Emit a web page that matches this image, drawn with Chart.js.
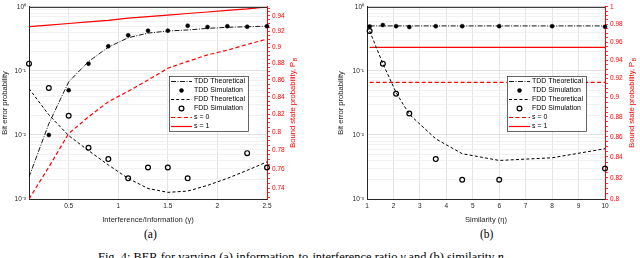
<!DOCTYPE html>
<html>
<head>
<meta charset="utf-8">
<script src="https://cdn.jsdelivr.net/npm/chart.js@4"></script>
<style>
  body { margin: 0; width: 640px; height: 258px; overflow: hidden; position: relative; background: #fff; }
  canvas { position: absolute; top: 0; }
  #ca { left: 0; }
  #cb { left: 320px; }
  .sub { position: absolute; top: 229px; font: 11.5px/11.5px "Liberation Serif", serif; color: #000; }
  #cap { position: absolute; left: 98px; top: 251px; font: 12.4px/12.4px "Liberation Serif", serif; white-space: nowrap; color: #000; }
</style>
</head>
<body>
<canvas id="ca" width="320" height="224"></canvas>
<canvas id="cb" width="320" height="224"></canvas>
<div class="sub" style="left:144px">(a)</div>
<div class="sub" style="left:480px">(b)</div>
<div id="cap">Fig. 4: BER for varying (a) information-to-interference ratio <i>γ</i> and (b) similarity <i>η</i>.</div>
<script>
// ── Data (a): varying interference/information γ ─────────────
const gammaA     = [0.1, 0.3, 0.5, 0.7, 0.9, 1.1, 1.3, 1.5, 1.7, 1.9, 2.1, 2.3, 2.5];
const tddTheoryA = [0.0022, 0.015, 0.0675, 0.14, 0.235, 0.33, 0.39, 0.42, 0.436, 0.462, 0.48, 0.49, 0.50];
const tddSimA    = [null, 0.010, 0.050, 0.13, 0.243, 0.36, 0.426, 0.426, 0.509, 0.485, 0.50, 0.49, 0.50];
const fddTheoryA = [0.053, 0.0206, 0.0098, 0.0057, 0.0034, 0.0021, 0.00146, 0.00127, 0.00133, 0.00163, 0.0021, 0.0028, 0.0038];
const fddSimA    = [0.13, 0.054, 0.020, 0.0063, 0.0042, 0.0021, 0.0031, 0.0031, 0.0021, null, null, 0.0052, 0.0031];
const s0A        = [0.7288, 0.7619, 0.7982, 0.8169, 0.8342, 0.8465, 0.8597, 0.8740, 0.8823, 0.8903, 0.8962, 0.9033, 0.9101];
const s1A        = [0.926, 0.928, 0.930, 0.932, 0.934, 0.937, 0.939, 0.941, 0.943, 0.945, 0.947, 0.949, 0.9517];

// ── Data (b): varying similarity η ───────────────────────────
const etaB       = [1.1, 1.6, 2.1, 2.6, 3.6, 4.6, 6, 8, 10];
const tddTheoryB = [0.505, 0.505, 0.505, 0.505, 0.505, 0.505, 0.505, 0.505, 0.505];
const tddSimB    = [0.496, 0.52, 0.50, 0.485, 0.50, 0.50, 0.50, 0.50, 0.49];
const fddTheoryB = [0.42, 0.13, 0.046, 0.021, 0.0087, 0.0051, 0.0040, 0.0044, 0.0061];
const fddSimB    = [0.42, 0.13, 0.044, 0.0216, 0.0042, 0.002, 0.002, null, 0.003];
const s0B        = [0.916, 0.916, 0.916, 0.916, 0.916, 0.916, 0.916, 0.916, 0.916];
const s1B        = [0.954, 0.954, 0.954, 0.954, 0.954, 0.954, 0.954, 0.954, 0.954];

// ── Ticks ────────────────────────────────────────────────────
const xTicksA = [0.5, 1, 1.5, 2, 2.5];
const xTicksB = [1, 2, 3, 4, 5, 6, 7, 8, 9, 10];
const berDecades = [0.001, 0.01, 0.1, 1];
const berLabels  = ['10⁻³', '10⁻²', '10⁻¹', '10⁰'];
const pbTicksA = [0.74, 0.76, 0.78, 0.8, 0.82, 0.84, 0.86, 0.88, 0.9, 0.92, 0.94];
const pbTicksB = [0.8, 0.82, 0.84, 0.86, 0.88, 0.9, 0.92, 0.94, 0.96, 0.98, 1];

// minor grid positions 2..9 per decade
const berTicks = [];
berDecades.forEach(d => {
  if (d === 1) { berTicks.push(1); return; }
  for (let k = 1; k <= 9; k++) berTicks.push(+(d * k).toPrecision(3));
});
function pbMinor(lo, hi) {
  const t = [];
  for (let v = lo; v <= hi + 1e-9; v += 0.005) t.push(Math.round(v * 1000) / 1000);
  return t;
}

const FONT = '"Liberation Sans", Arial, sans-serif';
const AX = '#262626';
const RED = '#ff0000';

const near = (arr, v) => arr.findIndex(a => Math.abs(a - v) < 1e-9);

// ── Plugins ──────────────────────────────────────────────────
const boxLegend = {
  id: 'boxLegend',
  afterDraw(chart) {
    const ctx = chart.ctx, a = chart.chartArea;
    const w = 79, h = 55;
    const x0 = Math.round(a.right - 19 - w), y0 = Math.round(a.top + 69);
    ctx.save();
    ctx.fillStyle = '#fff';
    ctx.fillRect(x0, y0, w, h);
    ctx.strokeStyle = AX;
    ctx.lineWidth = 0.7;
    ctx.strokeRect(x0 + 0.5, y0 + 0.5, w, h);
    chart.data.datasets.forEach((d, i) => {
      const y = y0 + 5.5 + i * 9;
      if (d.showLine !== false) {
        ctx.beginPath();
        ctx.setLineDash(d.borderDash || []);
        ctx.strokeStyle = d.borderColor;
        ctx.lineWidth = d.borderWidth;
        ctx.moveTo(x0 + 2, y);
        ctx.lineTo(x0 + 23, y);
        ctx.stroke();
        ctx.setLineDash([]);
      }
      if (d.pointRadius > 0) {
        ctx.beginPath();
        ctx.arc(x0 + 12.5, y, d.pointRadius, 0, Math.PI * 2);
        ctx.fillStyle = d.pointBackgroundColor;
        ctx.fill();
        ctx.lineWidth = d.pointBorderWidth;
        ctx.strokeStyle = d.pointBorderColor;
        ctx.stroke();
      }
      ctx.fillStyle = '#000';
      ctx.font = '7px ' + FONT;
      ctx.textBaseline = 'middle';
      ctx.textAlign = 'left';
      ctx.fillText(d.label, x0 + 25, y);
    });
    ctx.restore();
  }
};

const frame = {
  id: 'frame',
  afterDraw(chart, args, opts) {
    const ctx = chart.ctx, a = chart.chartArea;
    ctx.save();
    ctx.strokeStyle = AX;
    ctx.lineWidth = 1;
    ctx.beginPath();
    ctx.moveTo(a.left, a.top + 0.5);
    ctx.lineTo(a.right, a.top + 0.5);
    ctx.stroke();
    // right axis title, reads bottom to top, with subscript B
    ctx.translate(opts.tx, (a.top + a.bottom) / 2);
    ctx.rotate(-Math.PI / 2);
    ctx.fillStyle = RED;
    ctx.textBaseline = 'middle';
    ctx.textAlign = 'left';
    const main = 'Bound state probability, P';
    ctx.font = '7.6px ' + FONT;
    const wm = ctx.measureText(main).width;
    ctx.font = '5.6px ' + FONT;
    const ws = ctx.measureText('B').width;
    const sx = -(wm + ws) / 2;
    ctx.font = '7.6px ' + FONT;
    ctx.fillText(main, sx, 0);
    ctx.font = '5.6px ' + FONT;
    ctx.fillText('B', sx + wm + 0.3, 2.6);
    ctx.restore();
  }
};

// ── Datasets ─────────────────────────────────────────────────
function pts(xs, ys) { return xs.map((x, i) => ({ x: x, y: ys[i] })); }

function makeSets(xs, tddT, tddS, fddT, fddS, s0, s1) {
  return [
    { label: 'TDD Theoretical', data: pts(xs, tddT), yAxisID: 'y', borderColor: '#000', borderWidth: 0.9,
      borderDash: [5, 1.5, 1, 1.5], pointRadius: 0 },
    { label: 'TDD Simulation', data: pts(xs, tddS), yAxisID: 'y', showLine: false, clip: false,
      pointRadius: 2, pointBackgroundColor: '#000', pointBorderColor: '#000', pointBorderWidth: 0.5 },
    { label: 'FDD Theoretical', data: pts(xs, fddT), yAxisID: 'y', borderColor: '#000', borderWidth: 1,
      borderDash: [3, 2.2], pointRadius: 0 },
    { label: 'FDD Simulation', data: pts(xs, fddS), yAxisID: 'y', showLine: false, clip: false,
      pointRadius: 2.4, pointBackgroundColor: 'rgba(0,0,0,0)', pointBorderColor: '#000', pointBorderWidth: 1.2 },
    { label: 's = 0', data: pts(xs, s0), yAxisID: 'y2', borderColor: RED, borderWidth: 1.2,
      borderDash: [4, 2.5], pointRadius: 0 },
    { label: 's = 1', data: pts(xs, s1), yAxisID: 'y2', borderColor: RED, borderWidth: 1.2,
      pointRadius: 0 }
  ];
}

// ── Chart builder ────────────────────────────────────────────
function makeChart(id, cfg) {
  const tickFont = { family: FONT, size: 6.5 };
  const titleFont = { family: FONT, size: 7.6 };
  const pbMinorTicks = pbMinor(cfg.pbTicks[0] - 0.015, cfg.pbTicks[cfg.pbTicks.length - 1] + 0.015)
    .filter(v => v >= cfg.pbMin - 1e-9 && v <= cfg.pbMax + 1e-9);

  return new Chart(document.getElementById(id), {
    type: 'line',
    data: { datasets: cfg.sets },
    options: {
      responsive: false,
      animation: false,
      layout: { padding: { top: 5, left: 0, right: 0, bottom: 0 } },
      plugins: { legend: { display: false }, tooltip: { enabled: false }, frame: { tx: cfg.rightTitleX } },
      scales: {
        x: {
          type: 'linear', min: cfg.xMin, max: cfg.xMax,
          afterBuildTicks: s => { s.ticks = cfg.xTicks.map(v => ({ value: v })); },
          afterFit: s => { s.height = 25; },
          grid: { color: '#dedede', lineWidth: 0.8, drawTicks: false },
          border: { color: AX, width: 1 },
          ticks: { font: tickFont, color: AX, padding: 3, autoSkip: false, maxRotation: 0,
                   callback: v => String(v) },
          title: { display: true, text: cfg.xTitle, font: titleFont, color: AX, padding: { top: 2, bottom: 0 } }
        },
        y: {
          type: 'logarithmic', position: 'left', min: 0.001, max: 1,
          afterBuildTicks: s => { s.ticks = berTicks.map(v => ({ value: v })); },
          afterFit: s => { s.width = cfg.leftW; },
          grid: {
            drawTicks: false, lineWidth: 0.8,
            color: c => (c.tick && near(berDecades, c.tick.value) >= 0) ? '#dcdcdc' : '#efefef'
          },
          border: { color: AX, width: 1 },
          ticks: { font: tickFont, color: AX, padding: 3, autoSkip: false,
                   callback: v => { const i = near(berDecades, v); return i >= 0 ? berLabels[i] : ''; } },
          title: { display: true, text: 'Bit error probability', font: titleFont, color: AX,
                   padding: { top: cfg.leftTitlePad, bottom: 0 } }
        },
        y2: {
          type: 'logarithmic', position: 'right', min: cfg.pbMin, max: cfg.pbMax,
          afterBuildTicks: s => { s.ticks = pbMinorTicks.map(v => ({ value: v })); },
          afterFit: s => { s.width = cfg.rightW; },
          grid: { drawOnChartArea: false, color: RED, tickLength: 3, lineWidth: 0.8 },
          border: { color: RED, width: 1 },
          ticks: { font: tickFont, color: RED, padding: 2, autoSkip: false,
                   callback: v => { const i = near(cfg.pbTicks, v); return i >= 0 ? String(cfg.pbTicks[i]) : ''; } }
        }
      }
    },
    plugins: [frame, boxLegend]
  });
}

makeChart('ca', {
  sets: makeSets(gammaA, tddTheoryA, tddSimA, fddTheoryA, fddSimA, s0A, s1A),
  xMin: 0.1, xMax: 2.5, xTicks: xTicksA, xTitle: 'Interference/Information (γ)',
  pbMin: 0.7288, pbMax: 0.9517, pbTicks: pbTicksA,
  leftW: 29, rightW: 53, leftTitlePad: 0, rightTitleX: 293
});

makeChart('cb', {
  sets: makeSets(etaB, tddTheoryB, tddSimB, fddTheoryB, fddSimB, s0B, s1B),
  xMin: 1, xMax: 10, xTicks: xTicksB, xTitle: 'Similarity (η)',
  pbMin: 0.8, pbMax: 1, pbTicks: pbTicksB,
  leftW: 47, rightW: 35, leftTitlePad: 16.5, rightTitleX: 311.5
});
</script>
</body>
</html>
